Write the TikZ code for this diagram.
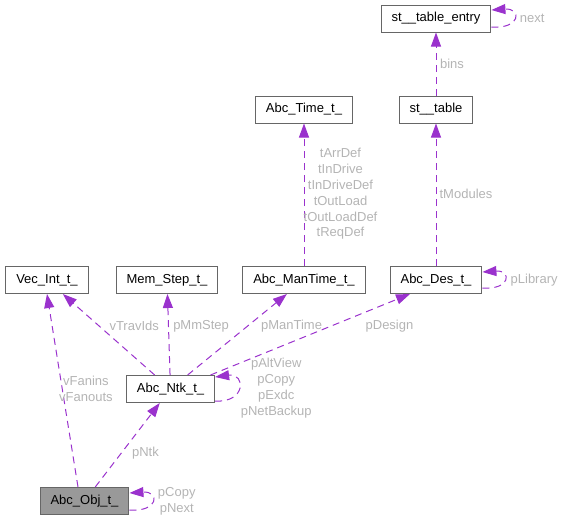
\documentclass[tikz,border=0pt]{standalone}
\usepackage{fontspec}
\setmainfont{Liberation Sans}
\usetikzlibrary{arrows.meta,calc}
\definecolor{edgepurple}{HTML}{9A32CD}
\definecolor{boxgray}{HTML}{666666}
\definecolor{lblgray}{HTML}{B4B4B4}
\definecolor{curfill}{HTML}{999999}

\begin{document}
\begin{tikzpicture}[x=1pt,y=-1pt,
  box/.style={draw=boxgray,line width=1pt,fill=white,minimum height=27pt,inner xsep=10.5pt,
              text height=9.4pt,text depth=2.8pt,font=\fontsize{13}{15.8}\selectfont},
  arr/.style={-{Triangle[length=14pt,width=10pt]},color=edgepurple,line width=1pt,
              dash pattern=on 7pt off 5pt},
  lbl/.style={text=lblgray,inner sep=0pt,align=center,font=\fontsize{13}{15.8}\selectfont}
]
\useasboundingbox (0,0) rectangle (562,523);

\node[box] (ENT)  at (436,18.5)  {st\_\_table\_entry};
\node[box] (TBL)  at (436,109.5) {st\_\_table};
\node[box] (TIME) at (304,109.5) {Abc\_Time\_t\_};
\node[box] (VEC)  at (47,280)    {Vec\_Int\_t\_};
\node[box] (MEM)  at (167,280)   {Mem\_Step\_t\_};
\node[box] (MT)   at (304,280)   {Abc\_ManTime\_t\_};
\node[box] (DES)  at (436,280)   {Abc\_Des\_t\_};
\node[box] (NTK)  at (170.5,389) {Abc\_Ntk\_t\_};
\node[box,fill=curfill] (OBJ) at (84.5,501) {Abc\_Obj\_t\_};

% Abc_Obj_t_
\draw[arr] ([xshift=-6.5pt]OBJ.north) -- node[lbl,pos=0.508,xshift=23.7pt]{vFanins\\vFanouts} (VEC.south);
\draw[arr] (OBJ) -- node[lbl,pos=0.406,xshift=24pt]{pNtk} (NTK);
\draw[arr] ($(OBJ.east)+(0,9)$) .. controls +(30,2) and +(30,-2) ..
  node[lbl,pos=0.5,anchor=west,xshift=5.5pt]{pCopy\\pNext} ($(OBJ.east)+(0,-8)$);

% Abc_Ntk_t_
\draw[arr] (NTK) -- node[lbl,pos=0.604,xshift=35pt]{vTravIds} (VEC);
\draw[arr] (NTK) -- node[lbl,pos=0.604,xshift=32.6pt]{pMmStep} (MEM);
\draw[arr] (NTK) -- node[lbl,pos=0.604,xshift=44pt]{pManTime} (MT);
\draw[arr] ([xshift=40pt]NTK.north) -- node[lbl,pos=0.604,xshift=58.5pt]{pDesign} ([xshift=-26pt]DES.south);
\draw[arr] ($(NTK.east)+(0,12)$) .. controls +(31,2) and +(31,-4) ..
  node[lbl,pos=0.5,anchor=west,xshift=2pt]{pAltView\\pCopy\\pExdc\\pNetBackup} ($(NTK.east)+(0,-12)$);

% upper part
\draw[arr] (MT) -- node[lbl,pos=0.505,xshift=36.5pt]{tArrDef\\tInDrive\\tInDriveDef\\tOutLoad\\tOutLoadDef\\tReqDef} (TIME);
\draw[arr] (DES) -- node[lbl,pos=0.505,xshift=30pt]{tModules} (TBL);
\draw[arr] ($(DES.east)+(0,8)$) .. controls +(29,2) and +(29,-2) ..
  node[lbl,pos=0.5,anchor=west,xshift=6pt]{pLibrary} ($(DES.east)+(0,-8)$);
\draw[arr] (TBL) -- node[lbl,pos=0.496,xshift=16pt]{bins} (ENT);
\draw[arr] ($(ENT.east)+(0,8.5)$) .. controls +(30,2) and +(30,-2) ..
  node[lbl,pos=0.5,anchor=west,xshift=5.5pt]{next} ($(ENT.east)+(0,-8.5)$);
\end{tikzpicture}
\end{document}
